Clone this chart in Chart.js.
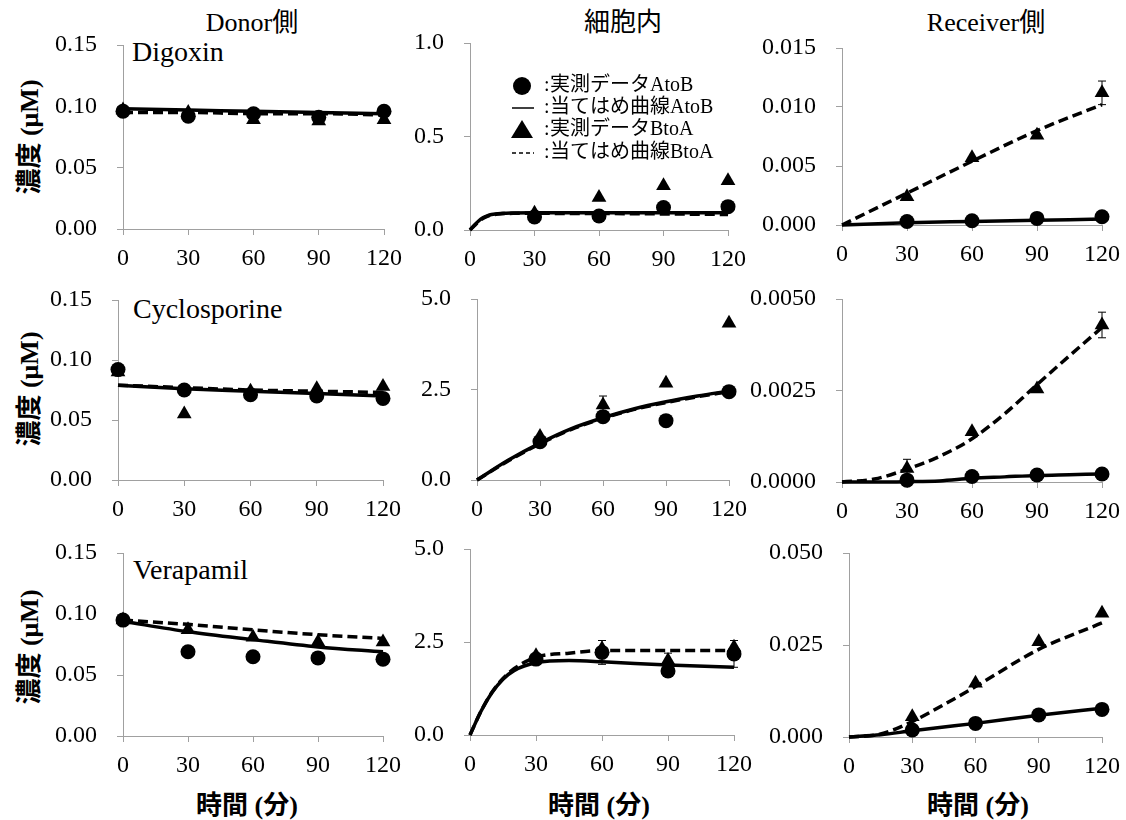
<!DOCTYPE html>
<html lang="ja">
<head>
<meta charset="utf-8">
<title>濃度推移</title>
<script src="https://cdn.jsdelivr.net/npm/chart.js@4.4.1/dist/chart.umd.min.js"></script>
<style>
  html, body { margin: 0; padding: 0; background: #fff; }
  #figure { position: relative; width: 1126px; height: 820px; overflow: hidden;
            font-family: "Liberation Serif", "Noto Sans CJK JP", serif; color: #000; }
  .panel { position: absolute; }
  .label { position: absolute; white-space: nowrap; line-height: 1; }
  .col-title { font-size: 26px; transform: translateX(-50%); }
  .drug { font-size: 28px; }
  .y-title { font-size: 26px; font-weight: bold; transform: translate(-50%, -50%) rotate(-90deg); }
  .x-title { font-size: 26px; font-weight: bold; transform: translate(-50%, -50%); }
</style>
</head>
<body>
<div id="figure">
  <div class="label col-title" style="left:252px; top:10px;">Donor側</div>
  <div class="label col-title" style="left:623px; top:10px;">細胞内</div>
  <div class="label col-title" style="left:986px; top:10px;">Receiver側</div>

  <div class="label drug" style="left:132px; top:38px;">Digoxin</div>
  <div class="label drug" style="left:133px; top:295px;">Cyclosporine</div>
  <div class="label drug" style="left:133px; top:556px;">Verapamil</div>

  <div class="label y-title" style="left:30px; top:137px;">濃度 (μM)</div>
  <div class="label y-title" style="left:30px; top:389px;">濃度 (μM)</div>
  <div class="label y-title" style="left:30px; top:647px;">濃度 (μM)</div>

  <div class="label x-title" style="left:247px; top:806px;">時間 (分)</div>
  <div class="label x-title" style="left:599px; top:806px;">時間 (分)</div>
  <div class="label x-title" style="left:978px; top:806px;">時間 (分)</div>
</div>
<script>
// sampling times (min)
const tObsDonor = [0, 30, 60, 90, 120];
const tObs = [30, 60, 90, 120];
const tFitDonor = [0, 30, 60, 90, 120];

// Digoxin
const digDonorAB = [0.096, 0.092, 0.094, 0.091, 0.096];
const digDonorBA = [0.097, 0.095, 0.089, 0.088, 0.089];
const digDonorFitAB = [0.098, 0.097, 0.096, 0.095, 0.094];
const digDonorFitBA = [0.095, 0.095, 0.094, 0.094, 0.093];

const digCellAB = [0.07, 0.075, 0.12, 0.125];
const digCellBA = [0.09, 0.174, 0.236, 0.264];
const digCellFitT = [0, 2, 4, 6, 8, 10, 15, 20, 30, 60, 90, 120];
const digCellFitAB = [0, 0.025, 0.048, 0.065, 0.076, 0.083, 0.089, 0.091, 0.092, 0.092, 0.092, 0.092];
const digCellFitBA = [0, 0.023, 0.045, 0.062, 0.073, 0.080, 0.087, 0.089, 0.089, 0.088, 0.086, 0.083];

const digRecvAB = [0.0003, 0.00036, 0.00056, 0.0007];
const digRecvBA = [0.0024, 0.0057, 0.0076, 0.0112];
const digRecvSdBA = [0, 0, 0, 0.001];
const digRecvFitT = [0, 30, 60, 90, 120];
const digRecvFitAB = [0, 0.0002, 0.0003, 0.0004, 0.0005];
const digRecvFitBA = [0, 0.0027, 0.0054, 0.0080, 0.0102];

// Cyclosporine
const cycDonorAB = [0.092, 0.075, 0.071, 0.070, 0.068];
const cycDonorBA = [0.090, 0.055, 0.074, 0.076, 0.078];
const cycDonorFitAB = [0.079, 0.076, 0.074, 0.072, 0.070];
const cycDonorFitBA = [0.079, 0.077, 0.075, 0.074, 0.073];

const cycCellAB = [1.06, 1.75, 1.64, 2.44];
const cycCellBA = [1.2, 2.07, 2.67, 4.33];
const cycCellSdBA = [0, 0.25, 0, 0];
const cycCellFitT = [0, 15, 30, 45, 60, 75, 90, 105, 120];
const cycCellFitAB = [0, 0.55, 1.02, 1.42, 1.72, 1.97, 2.16, 2.32, 2.46];
const cycCellFitBA = [0, 0.53, 1.0, 1.4, 1.7, 1.95, 2.14, 2.3, 2.44];

const cycRecvAB = [0.00005, 0.00015, 0.00019, 0.00022];
const cycRecvBA = [0.00037, 0.00137, 0.00254, 0.00429];
const cycRecvSdBA = [0.00025, 0, 0, 0.00035];
const cycRecvFitT = [0, 15, 30, 45, 60, 75, 90, 105, 120];
const cycRecvFitAB = [0, 0, 0.00001, 0.00003, 0.0001, 0.00014, 0.00018, 0.0002, 0.00022];
const cycRecvFitBA = [0, 0.00008, 0.00035, 0.0007, 0.00118, 0.00186, 0.00266, 0.00345, 0.00422];

// Verapamil
const verDonorAB = [0.095, 0.069, 0.065, 0.064, 0.063];
const verDonorBA = [0.095, 0.087, 0.081, 0.077, 0.077];
const verDonorFitAB = [0.094, 0.0855, 0.079, 0.073, 0.069];
const verDonorFitBA = [0.095, 0.0915, 0.087, 0.083, 0.080];

const verCellAB = [2.04, 2.22, 1.72, 2.18];
const verCellBA = [2.13, 2.32, 2.0, 2.36];
const verCellSdAB = [0, 0.32, 0, 0.36];
const verCellSdBA = [0, 0, 0.2, 0];
const verCellFitT = [0, 5, 10, 15, 20, 30, 45, 60, 90, 120];
const verCellFitAB = [0, 0.64, 1.14, 1.50, 1.73, 1.94, 2.0, 1.97, 1.88, 1.82];
const verCellFitBA = [0, 0.64, 1.15, 1.52, 1.78, 2.09, 2.2, 2.27, 2.27, 2.27];

const verRecvAB = [0.0019, 0.0037, 0.006, 0.0075];
const verRecvBA = [0.0055, 0.0146, 0.0259, 0.0336];
const verRecvFitT = [0, 15, 30, 45, 60, 90, 120];
const verRecvFitAB = [0, 0.0006, 0.0017, 0.0027, 0.0037, 0.0059, 0.0078];
const verRecvFitBA = [0, 0.0008, 0.0042, 0.0088, 0.0137, 0.0238, 0.031];

// y axis ranges: [min, max, step, decimals]
const yDonor = [0, 0.15, 0.05, 2];
const yCellDig = [0, 1.0, 0.5, 1];
const yCell = [0, 5.0, 2.5, 1];
const yRecvDig = [0, 0.015, 0.005, 3];
const yRecvCyc = [0, 0.005, 0.0025, 4];
const yRecvVer = [0, 0.05, 0.025, 3];

const panels = [
    { row: 0, col: 0, y: yDonor, obsT: tObsDonor, ab: digDonorAB, ba: digDonorBA, fitT: tFitDonor, fitAB: digDonorFitAB, fitBA: digDonorFitBA },
    { row: 0, col: 1, y: yCellDig, obsT: tObs, ab: digCellAB, ba: digCellBA, fitT: digCellFitT, fitAB: digCellFitAB, fitBA: digCellFitBA, legend: true },
    { row: 0, col: 2, y: yRecvDig, obsT: tObs, ab: digRecvAB, ba: digRecvBA, sdBA: digRecvSdBA, fitT: digRecvFitT, fitAB: digRecvFitAB, fitBA: digRecvFitBA },
    { row: 1, col: 0, y: yDonor, obsT: tObsDonor, ab: cycDonorAB, ba: cycDonorBA, fitT: tFitDonor, fitAB: cycDonorFitAB, fitBA: cycDonorFitBA },
    { row: 1, col: 1, y: yCell, obsT: tObs, ab: cycCellAB, ba: cycCellBA, sdBA: cycCellSdBA, fitT: cycCellFitT, fitAB: cycCellFitAB, fitBA: cycCellFitBA },
    { row: 1, col: 2, y: yRecvCyc, obsT: tObs, ab: cycRecvAB, ba: cycRecvBA, sdBA: cycRecvSdBA, fitT: cycRecvFitT, fitAB: cycRecvFitAB, fitBA: cycRecvFitBA },
    { row: 2, col: 0, y: yDonor, obsT: tObsDonor, ab: verDonorAB, ba: verDonorBA, fitT: tFitDonor, fitAB: verDonorFitAB, fitBA: verDonorFitBA },
    { row: 2, col: 1, y: yCell, obsT: tObs, ab: verCellAB, ba: verCellBA, sdAB: verCellSdAB, sdBA: verCellSdBA, fitT: verCellFitT, fitAB: verCellFitAB, fitBA: verCellFitBA },
    { row: 2, col: 2, y: yRecvVer, obsT: tObs, ab: verRecvAB, ba: verRecvBA, fitT: verRecvFitT, fitAB: verRecvFitAB, fitBA: verRecvFitBA },
];

// plot area of each panel on the page: [left, top, right, bottom]
const boxes = [
    [[123, 45, 384, 229], [470, 43, 728, 230], [842, 48, 1102, 225]],
    [[118, 300, 383, 480], [477, 299, 729, 480], [842, 299, 1102, 482]],
    [[123, 553, 383, 736], [470, 549, 734, 735], [849, 553, 1102, 737]],
];

const PAD_L = 100, PAD_T = 12, PAD_R = 22, PAD_B = 50;
const axisGrey = "#a0a0a0";
const tickFont = { family: "'Liberation Serif', 'Times New Roman', serif", size: 24 };

const xy = (ts, vs) => ts.map((t, i) => ({ x: t, y: vs[i] }));

// vertical error bars with caps
const errorBarPlugin = {
    id: "errorBars",
    afterDatasetsDraw(chart) {
        const { ctx } = chart;
        const yScale = chart.scales.y;
        ctx.save();
        ctx.strokeStyle = "#000";
        ctx.lineWidth = 1;
        chart.data.datasets.forEach((ds, di) => {
            if (!ds.errors) return;
            const meta = chart.getDatasetMeta(di);
            ds.errors.forEach((e, i) => {
                if (!e) return;
                const px = meta.data[i].x;
                const v = ds.data[i].y;
                const top = yScale.getPixelForValue(v + e);
                const bot = yScale.getPixelForValue(v - e);
                ctx.beginPath();
                ctx.moveTo(px, top);
                ctx.lineTo(px, bot);
                ctx.moveTo(px - 4, top);
                ctx.lineTo(px + 4, top);
                ctx.moveTo(px - 4, bot);
                ctx.lineTo(px + 4, bot);
                ctx.stroke();
            });
        });
        ctx.restore();
    },
};

// legend drawn inside the plot: marker, colon, label
const cornerLegend = {
    id: "cornerLegend",
    afterDraw(chart) {
        const { ctx, chartArea } = chart;
        const ds = chart.data.datasets;
        const entries = [
            { kind: "circle", text: ds[0].label },
            { kind: "line", dash: [], text: ds[2].label },
            { kind: "triangle", text: ds[1].label },
            { kind: "line", dash: [4, 3], text: ds[3].label },
        ];
        const rowOffsets = [43, 65, 87, 110];
        ctx.save();
        ctx.fillStyle = "#000";
        ctx.strokeStyle = "#000";
        ctx.font = "20px 'Liberation Serif', 'Noto Sans CJK JP', serif";
        ctx.textBaseline = "middle";
        entries.forEach((item, i) => {
            const cy = chartArea.top + rowOffsets[i];
            const cx = chartArea.left + 52;
            ctx.beginPath();
            if (item.kind === "circle") {
                ctx.arc(cx, cy, 9, 0, Math.PI * 2);
                ctx.fill();
            } else if (item.kind === "triangle") {
                ctx.moveTo(cx, cy - 10);
                ctx.lineTo(cx + 11, cy + 8);
                ctx.lineTo(cx - 11, cy + 8);
                ctx.closePath();
                ctx.fill();
            } else {
                ctx.lineWidth = 1.5;
                ctx.setLineDash(item.dash);
                ctx.moveTo(cx - 10, cy);
                ctx.lineTo(cx + 12, cy);
                ctx.stroke();
                ctx.setLineDash([]);
            }
            ctx.fillText(":", chartArea.left + 74, cy);
            ctx.fillText(item.text, chartArea.left + 80, cy);
        });
        ctx.restore();
    },
};

function makeDatasets(p) {
    const marker = { showLine: false, backgroundColor: "#000", borderColor: "#000", pointBorderWidth: 0, clip: false };
    const fit = { showLine: true, pointRadius: 0, borderColor: "#000", borderWidth: 3.5, cubicInterpolationMode: "monotone", clip: false };
    return [
        { ...marker, label: "実測データAtoB", data: xy(p.obsT, p.ab), pointStyle: "circle", pointRadius: 7.5, errors: p.sdAB },
        { ...marker, label: "実測データBtoA", data: xy(p.obsT, p.ba), pointStyle: "triangle", pointRadius: 8.5, errors: p.sdBA },
        { ...fit, label: "当てはめ曲線AtoB", data: xy(p.fitT, p.fitAB) },
        { ...fit, label: "当てはめ曲線BtoA", data: xy(p.fitT, p.fitBA), borderDash: [10, 5] },
    ];
}

const figure = document.getElementById("figure");

panels.forEach((p) => {
    const [l, t, r, b] = boxes[p.row][p.col];
    const [yMin, yMax, yStep, yDec] = p.y;
    const w = r - l + PAD_L + PAD_R;
    const h = b - t + PAD_T + PAD_B;

    const holder = document.createElement("div");
    holder.className = "panel";
    holder.style.left = l - PAD_L + "px";
    holder.style.top = t - PAD_T + "px";
    const canvas = document.createElement("canvas");
    canvas.width = w;
    canvas.height = h;
    holder.appendChild(canvas);
    figure.appendChild(holder);

    new Chart(canvas.getContext("2d"), {
        type: "scatter",
        data: { datasets: makeDatasets(p) },
        plugins: p.legend ? [errorBarPlugin, cornerLegend] : [errorBarPlugin],
        options: {
            responsive: false,
            animation: false,
            devicePixelRatio: 1,
            layout: { padding: { top: PAD_T, right: PAD_R, left: 0, bottom: 0 } },
            plugins: { legend: { display: false }, tooltip: { enabled: false } },
            scales: {
                x: {
                    type: "linear",
                    min: 0,
                    max: 120,
                    afterFit: (s) => {
                        s.height = PAD_B;
                        s.paddingLeft = 0;
                        s.paddingRight = 0;
                    },
                    ticks: { stepSize: 30, font: tickFont, color: "#000", padding: 9, maxRotation: 0, autoSkip: false },
                    grid: { drawOnChartArea: false, tickLength: 6, color: axisGrey },
                    border: { color: axisGrey, width: 1 },
                },
                y: {
                    min: yMin,
                    max: yMax,
                    afterFit: (s) => {
                        s.width = PAD_L;
                        s.paddingTop = 0;
                        s.paddingBottom = 0;
                    },
                    ticks: {
                        stepSize: yStep,
                        font: tickFont,
                        color: "#000",
                        padding: 20,
                        callback: (v) => Number(v).toFixed(yDec),
                    },
                    grid: { drawOnChartArea: false, tickLength: 6, color: axisGrey },
                    border: { color: axisGrey, width: 1 },
                },
            },
        },
    });
});
</script>
</body>
</html>
